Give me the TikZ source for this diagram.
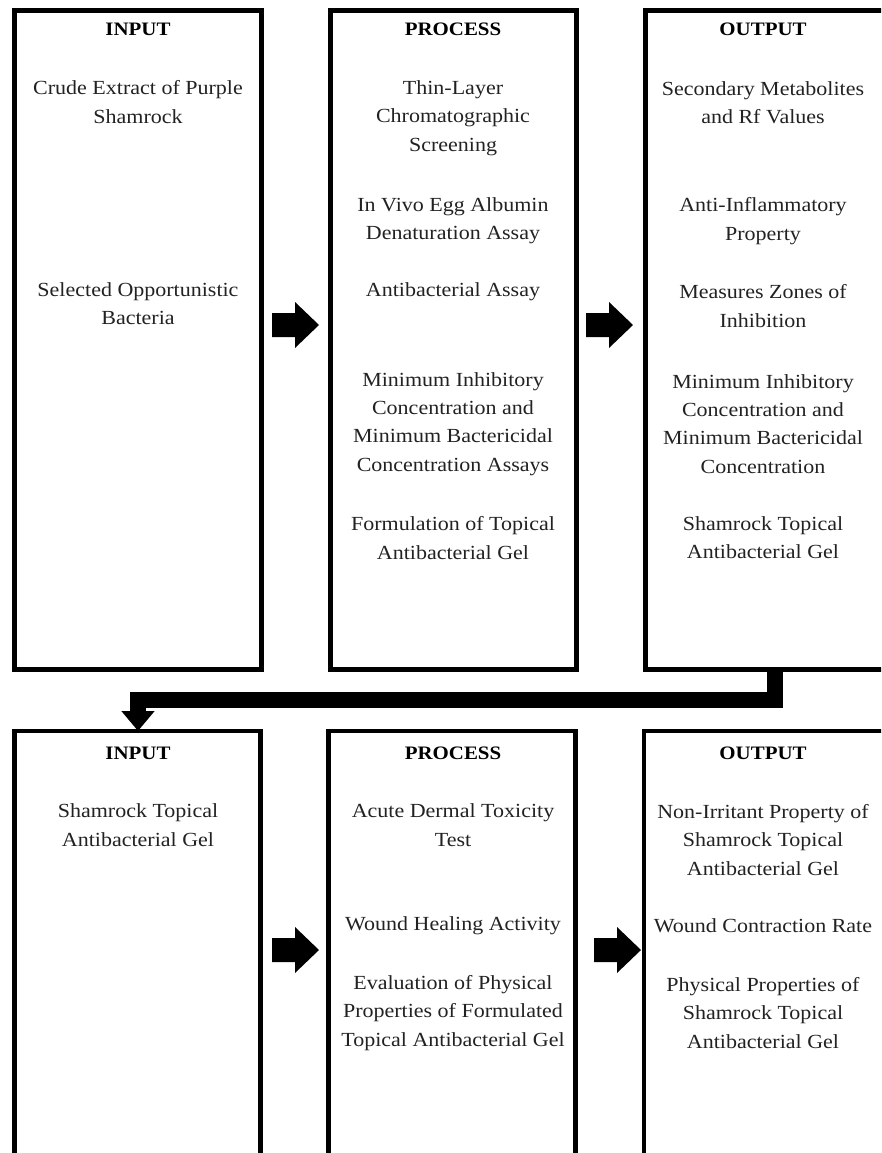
\documentclass[tikz,border=0pt]{standalone}
\usepackage{fontspec}
\setmainfont{Liberation Serif}[FakeStretch=1.1]
\usetikzlibrary{arrows.meta}
\definecolor{ink}{HTML}{222222}
\tikzset{
  boxA/.style={draw=black, line width=5pt, inner sep=0pt, outer sep=0pt, anchor=north west},
  boxB/.style={draw=black, line width=4.5pt, inner sep=0pt, outer sep=0pt, anchor=north west},
  body/.style={align=center, inner sep=0pt, text=ink, font=\fontsize{20}{28.3}\selectfont},
  head/.style={align=center, inner sep=0pt, text=black, font=\bfseries\fontsize{19}{24}\selectfont},
  conn/.style={draw=black, line width=16pt, line join=miter, -{Triangle[width=32pt,length=20pt]}},
  pics/blockarrow/.style={code={\fill[black] (0,-12) -- (23,-12) -- (23,-23) -- (47,0) -- (23,23) -- (23,12) -- (0,12) -- cycle;}}
}
\begin{document}
\begin{tikzpicture}[x=1pt,y=-1pt]
\useasboundingbox (0,0) rectangle (881,1153);
\clip (0,0) rectangle (881,1153);
\fill[white] (0,0) rectangle (881,1153);

% top row boxes
\node[boxA, minimum width=247pt, minimum height=659pt] (in1) at (14.5,10.5) {};
\node[boxA, minimum width=246pt, minimum height=659pt] (pr1) at (330,10.5) {};
\node[boxA, minimum width=320pt, minimum height=659pt] (out1) at (645.5,10.5) {};

% bottom row boxes
\node[boxB, minimum width=246pt, minimum height=480pt] (in2) at (14.5,731) {};
\node[boxB, minimum width=247pt, minimum height=480pt] (pr2) at (328.5,731) {};
\node[boxB, minimum width=320pt, minimum height=480pt] (out2) at (644,731) {};

% top row texts
\node[head] (h1) at (138,29) {INPUT};
\node[body] (t11) at (138,102) {Crude Extract of Purple\\Shamrock};
\node[body] (t12) at (138,304) {Selected Opportunistic\\Bacteria};

\node[head] (h2) at (453,29) {PROCESS};
\node[body] (t21) at (453,118) {Thin-Layer\\Chromatographic\\Screening};
\node[body] (t22) at (453,221) {In Vivo Egg Albumin\\Denaturation Assay};
\node[body] (t23) at (453,292) {Antibacterial Assay};
\node[body] (t24) at (453,424) {Minimum Inhibitory\\Concentration and\\Minimum Bactericidal\\Concentration Assays};
\node[body] (t25) at (453,538) {Formulation of Topical\\Antibacterial Gel};

\node[head] (h3) at (763,29) {OUTPUT};
\node[body] (t31) at (763,103) {Secondary Metabolites\\and Rf Values};
\node[body] (t32) at (763,221) {Anti-Inflammatory\\Property};
\node[body] (t33) at (763,306) {Measures Zones of\\Inhibition};
\node[body] (t34) at (763,424) {Minimum Inhibitory\\Concentration and\\Minimum Bactericidal\\Concentration};
\node[body] (t35) at (763,538) {Shamrock Topical\\Antibacterial Gel};

% bottom row texts
\node[head] (h4) at (138,753) {INPUT};
\node[body] (t41) at (138,825) {Shamrock Topical\\Antibacterial Gel};

\node[head] (h5) at (453,753) {PROCESS};
\node[body] (t51) at (453,825) {Acute Dermal Toxicity\\Test};
\node[body] (t52) at (453,926) {Wound Healing Activity};
\node[body] (t53) at (453,1013) {Evaluation of Physical\\Properties of Formulated\\Topical Antibacterial Gel};

\node[head] (h6) at (763,753) {OUTPUT};
\node[body] (t61) at (763,840) {Non-Irritant Property of\\Shamrock Topical\\Antibacterial Gel};
\node[body] (t62) at (763,926) {Wound Contraction Rate};
\node[body] (t63) at (763,1013) {Physical Properties of\\Shamrock Topical\\Antibacterial Gel};

% block arrows between boxes
\pic at (272,325) {blockarrow};
\pic at (586,325) {blockarrow};
\pic at (272,950) {blockarrow};
\pic at (594,950) {blockarrow};

% connector from top output to bottom input
\coordinate (k1) at (775,700);
\coordinate (k2) at (138,700);
\draw[conn] (out1.south -| k1) -- (k1) -- (k2) -- (k2 |- in2.north);
\end{tikzpicture}
\end{document}
